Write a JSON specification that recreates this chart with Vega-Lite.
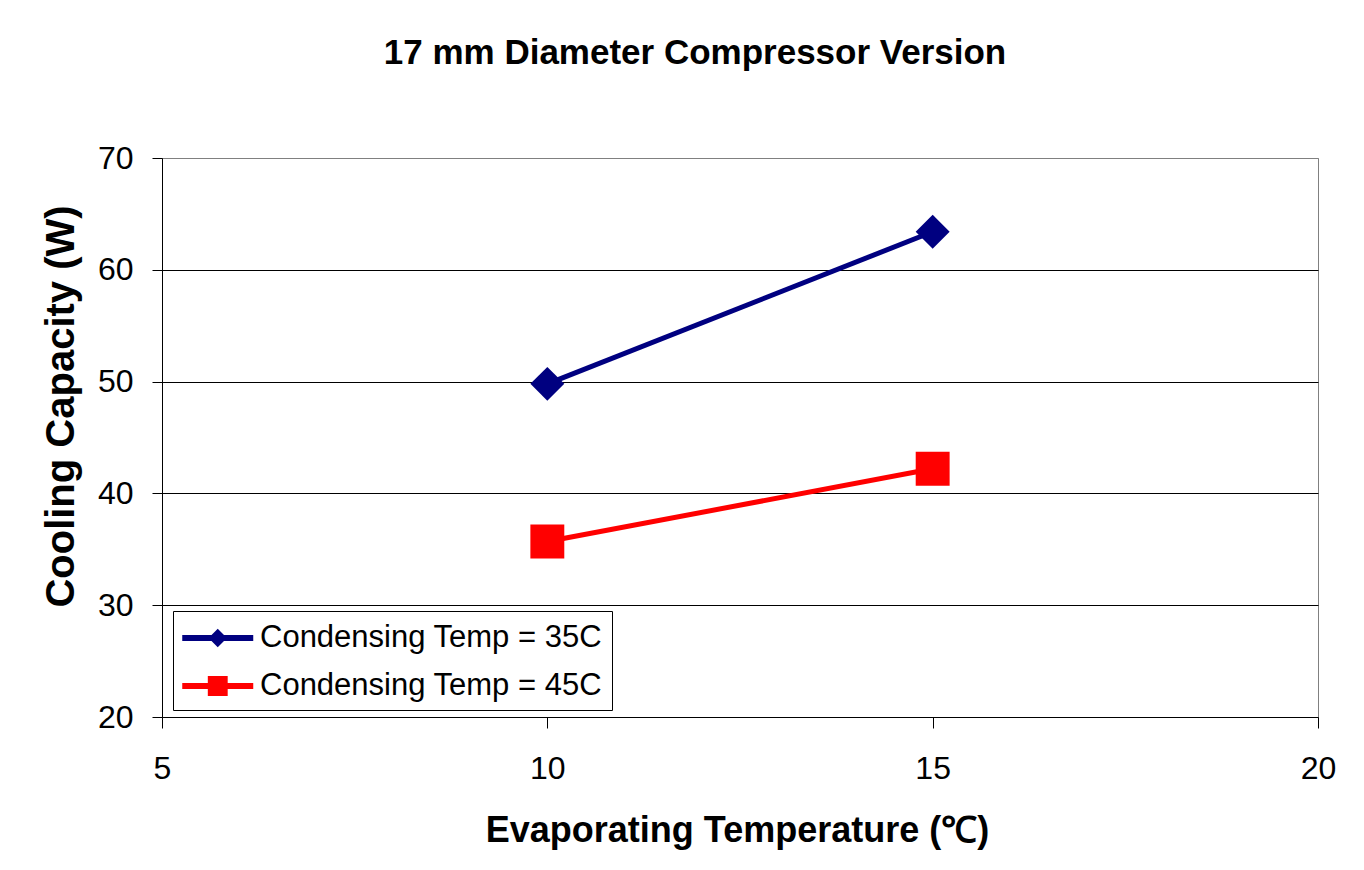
{
  "$schema": "https://vega.github.io/schema/vega-lite/v6.json",
  "autosize": {"type": "none"},
  "width": 1156,
  "height": 559,
  "padding": {"left": 162, "top": 158, "right": 46, "bottom": 153},
  "background": "white",
  "title": {
    "text": "17 mm Diameter Compressor Version",
    "font": "Liberation Sans",
    "fontSize": 35,
    "fontWeight": "bold",
    "color": "black",
    "anchor": "middle",
    "frame": "group",
    "baseline": "alphabetic",
    "dx": -45,
    "offset": 43
  },
  "data": {
    "values": [
      {"evap": 10, "cap": 49.8, "series": "Condensing Temp = 35C"},
      {"evap": 15, "cap": 63.4, "series": "Condensing Temp = 35C"},
      {"evap": 10, "cap": 35.7, "series": "Condensing Temp = 45C"},
      {"evap": 15, "cap": 42.2, "series": "Condensing Temp = 45C"}
    ]
  },
  "encoding": {
    "x": {
      "field": "evap",
      "type": "quantitative",
      "scale": {"domain": [5, 20], "nice": false, "zero": false},
      "axis": {
        "title": "Evaporating Temperature (℃)",
        "values": [5, 10, 15, 20],
        "grid": false,
        "labelFlush": false,
        "tickSize": 11,
        "labelPadding": 25,
        "titleY": 124,
        "titleX": 575,
        "titleBaseline": "alphabetic",
        "titleFontSize": 36
      }
    },
    "y": {
      "field": "cap",
      "type": "quantitative",
      "scale": {"domain": [20, 70], "nice": false, "zero": false},
      "axis": {
        "title": "Cooling Capacity (W)",
        "values": [20, 30, 40, 50, 60, 70],
        "grid": true,
        "labelFlush": false,
        "gridColor": {"condition": {"test": "datum.value === 70 || datum.value === 20", "value": "#808080"}, "value": "#000000"},
        "tickSize": 10,
        "labelPadding": 19,
        "titleX": -89,
        "titleY": 248,
        "titleBaseline": "alphabetic",
        "titleAngle": -90,
        "titleAlign": "center",
        "titleFontSize": 40
      }
    }
  },
  "layer": [
    {
      "transform": [{"filter": "datum.series === 'Condensing Temp = 35C'"}],
      "mark": {"type": "line", "color": "#000080", "strokeWidth": 5}
    },
    {
      "transform": [{"filter": "datum.series === 'Condensing Temp = 45C'"}],
      "mark": {"type": "line", "color": "#FF0000", "strokeWidth": 5}
    },
    {
      "transform": [{"filter": "datum.series === 'Condensing Temp = 35C'"}],
      "mark": {"type": "point", "shape": "diamond", "filled": true, "size": 1150, "color": "#000080", "opacity": 1, "strokeWidth": 0}
    },
    {
      "transform": [{"filter": "datum.series === 'Condensing Temp = 45C'"}],
      "mark": {"type": "point", "shape": "square", "filled": true, "size": 1150, "color": "#FF0000", "opacity": 1, "strokeWidth": 0}
    },
    {
      "transform": [{"filter": "datum.cap < 0"}],
      "mark": {"type": "point", "filled": true, "size": 1260, "opacity": 1, "strokeWidth": 0},
      "encoding": {
        "color": {
          "field": "series",
          "type": "nominal",
          "scale": {"domain": ["Condensing Temp = 35C", "Condensing Temp = 45C"], "range": ["#000080", "#FF0000"]},
          "legend": {
            "title": null,
            "orient": "none",
            "legendX": 11,
            "legendY": 453
          }
        },
        "shape": {
          "field": "series",
          "type": "nominal",
          "scale": {
            "domain": ["Condensing Temp = 35C", "Condensing Temp = 45C"],
            "range": [
              "M-1,-0.17H3V0.17H-1Z M1,-0.52L1.52,0L1,0.52L0.48,0Z",
              "M-1,-0.17H3V0.17H-1Z M0.44,-0.56H1.56V0.56H0.44Z"
            ]
          },
          "legend": {
            "title": null,
            "orient": "none",
            "legendX": 11,
            "legendY": 453
          }
        }
      }
    }
  ],
  "config": {
    "font": "Liberation Sans",
    "view": {"stroke": "#808080", "strokeWidth": 1},
    "axis": {
      "labelFont": "Liberation Sans",
      "labelFontSize": 32,
      "labelColor": "black",
      "titleFont": "Liberation Sans",
      "titleFontSize": 37,
      "titleFontWeight": "bold",
      "titleColor": "black",
      "domainColor": "black",
      "domainWidth": 1,
      "tickColor": "black",
      "tickWidth": 1,
      "gridWidth": 1,
      "gridOpacity": 1
    },
    "legend": {
      "labelFont": "Liberation Sans",
      "labelFontSize": 31,
      "labelColor": "black",
      "labelLimit": 700,
      "labelOffset": 42,
      "symbolSize": 1260,
      "symbolStrokeWidth": 0,
      "strokeColor": "#000000",
      "fillColor": "white",
      "padding": 9,
      "rowPadding": 15,
      "symbolOpacity": 1
    }
  }
}
